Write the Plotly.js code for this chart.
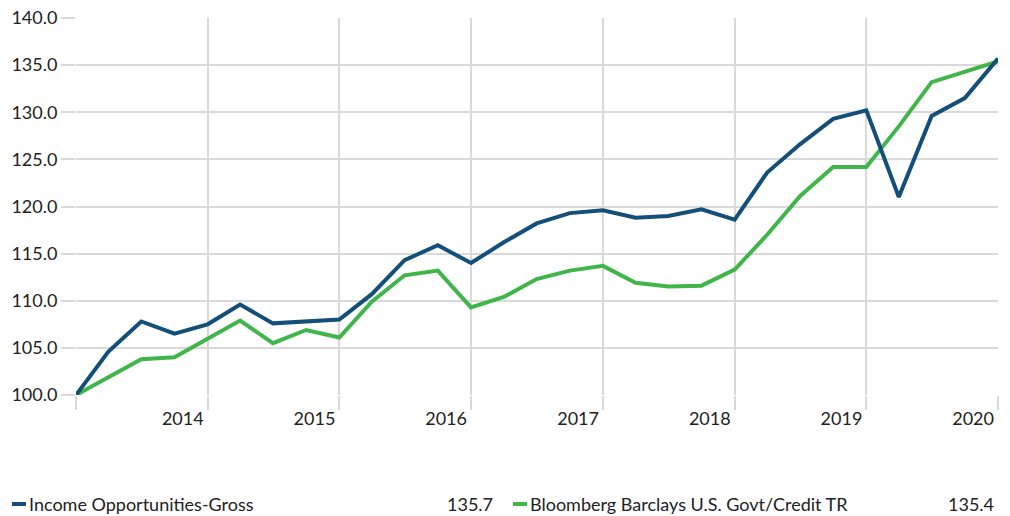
<!DOCTYPE html>
<html>
<head>
<meta charset="utf-8">
<script src="https://cdn.plot.ly/plotly-3.0.1.min.js"></script>
<style>html,body{margin:0;padding:0;background:#fff;}#chart{width:1010px;height:516px;}</style>
</head>
<body>
<div id="chart"></div>
<script>
const dates = ["2013-01-01","2013-04-01","2013-07-01","2013-10-01",
  "2014-01-01","2014-04-01","2014-07-01","2014-10-01",
  "2015-01-01","2015-04-01","2015-07-01","2015-10-01",
  "2016-01-01","2016-04-01","2016-07-01","2016-10-01",
  "2017-01-01","2017-04-01","2017-07-01","2017-10-01",
  "2018-01-01","2018-04-01","2018-07-01","2018-10-01",
  "2019-01-01","2019-04-01","2019-07-01","2019-10-01",
  "2020-01-01"];
const incomeGross = [100.0,104.6,107.8,106.5,
  107.5,109.6,107.6,107.8,
  108.0,110.7,114.3,115.9,
  114.0,116.2,118.2,119.3,
  119.6,118.8,119.0,119.7,
  118.6,123.6,126.6,129.3,
  130.2,121.0,129.6,131.5,
  135.7];
const bbGovtCredit = [100.0,101.9,103.8,104.0,
  106.0,107.9,105.5,106.9,
  106.1,109.9,112.7,113.2,
  109.3,110.4,112.3,113.2,
  113.7,111.9,111.5,111.6,
  113.3,117.0,121.1,124.2,
  124.2,128.5,133.2,134.3,
  135.4];
const seriesNames = ["Income Opportunities-Gross","Bloomberg Barclays U.S. Govt/Credit TR"];
const seriesFinal = ["135.7","135.4"];
const seriesColors = ["#134f78","#3fb54a"];
const yearTicks = ["2013-01-01","2014-01-01","2015-01-01","2016-01-01","2017-01-01","2018-01-01","2019-01-01","2020-01-01"];
const yearLabels = ["","2014","2015","2016","2017","2018","2019","2020"];

const FONT = "Lato, 'Open Sans', sans-serif";
const TXT = "#222222";
const GRID = "#d9d9d9";
const FS = 18;

const traces = [incomeGross, bbGovtCredit].map((vals, i) => ({
  type: "scatter", mode: "lines", x: dates, y: vals, name: seriesNames[i],
  line: {color: seriesColors[i], width: 4}, hoverinfo: "skip", showlegend: false,
  cliponaxis: false
}));
traces.reverse();

// legend layout helpers (paper coords derived from pixel layout)
const L = 76, R = 998, T = 18, B = 395;
const px = p => (p - L) / (R - L);
const py = q => (B - q) / (B - T);
const legY = 504;
const legendItems = [
  {sym: [12, 26], txt: 27, val: 495},
  {sym: [513, 527], txt: 528, val: 996}
];
const shapes = [], annotations = [];
legendItems.forEach((it, i) => {
  shapes.push({type: "line", xref: "paper", yref: "paper",
    x0: px(it.sym[0]), x1: px(it.sym[1]), y0: py(legY), y1: py(legY),
    line: {color: seriesColors[i], width: 4}});
  annotations.push({xref: "paper", yref: "paper", x: px(it.txt), y: py(legY),
    xanchor: "left", yanchor: "middle", showarrow: false, text: seriesNames[i],
    font: {family: FONT, size: FS, color: TXT}});
  annotations.push({xref: "paper", yref: "paper", x: px(it.val), y: py(legY),
    xanchor: "right", yanchor: "middle", showarrow: false, text: seriesFinal[i],
    font: {family: FONT, size: FS, color: TXT}});
});

const layout = {
  width: 1010, height: 516,
  margin: {l: L, r: 1010 - R, t: T, b: 516 - B},
  paper_bgcolor: "#fff", plot_bgcolor: "#fff",
  font: {family: FONT, size: FS, color: TXT},
  xaxis: {
    type: "date", range: ["2013-01-01", "2020-01-01"],
    tickmode: "array", tickvals: yearTicks, ticktext: yearLabels,
    ticks: "outside", ticklen: 14, tickwidth: 2, tickcolor: GRID,
    ticklabelposition: "outside left", ticklabelstandoff: 7, ticklabelshift: -3,
    showgrid: true, gridcolor: GRID, gridwidth: 2,
    zeroline: false, showline: false, fixedrange: true
  },
  yaxis: {
    range: [100, 140], dtick: 5, tick0: 100, tickformat: ".1f",
    ticks: "outside", ticklen: 14, tickwidth: 2, tickcolor: GRID,
    showgrid: true, gridcolor: GRID, gridwidth: 2,
    zeroline: false, showline: false, fixedrange: true
  },
  shapes: shapes, annotations: annotations, showlegend: false
};
Plotly.newPlot("chart", traces, layout, {displayModeBar: false, staticPlot: true});
</script>
</body>
</html>
